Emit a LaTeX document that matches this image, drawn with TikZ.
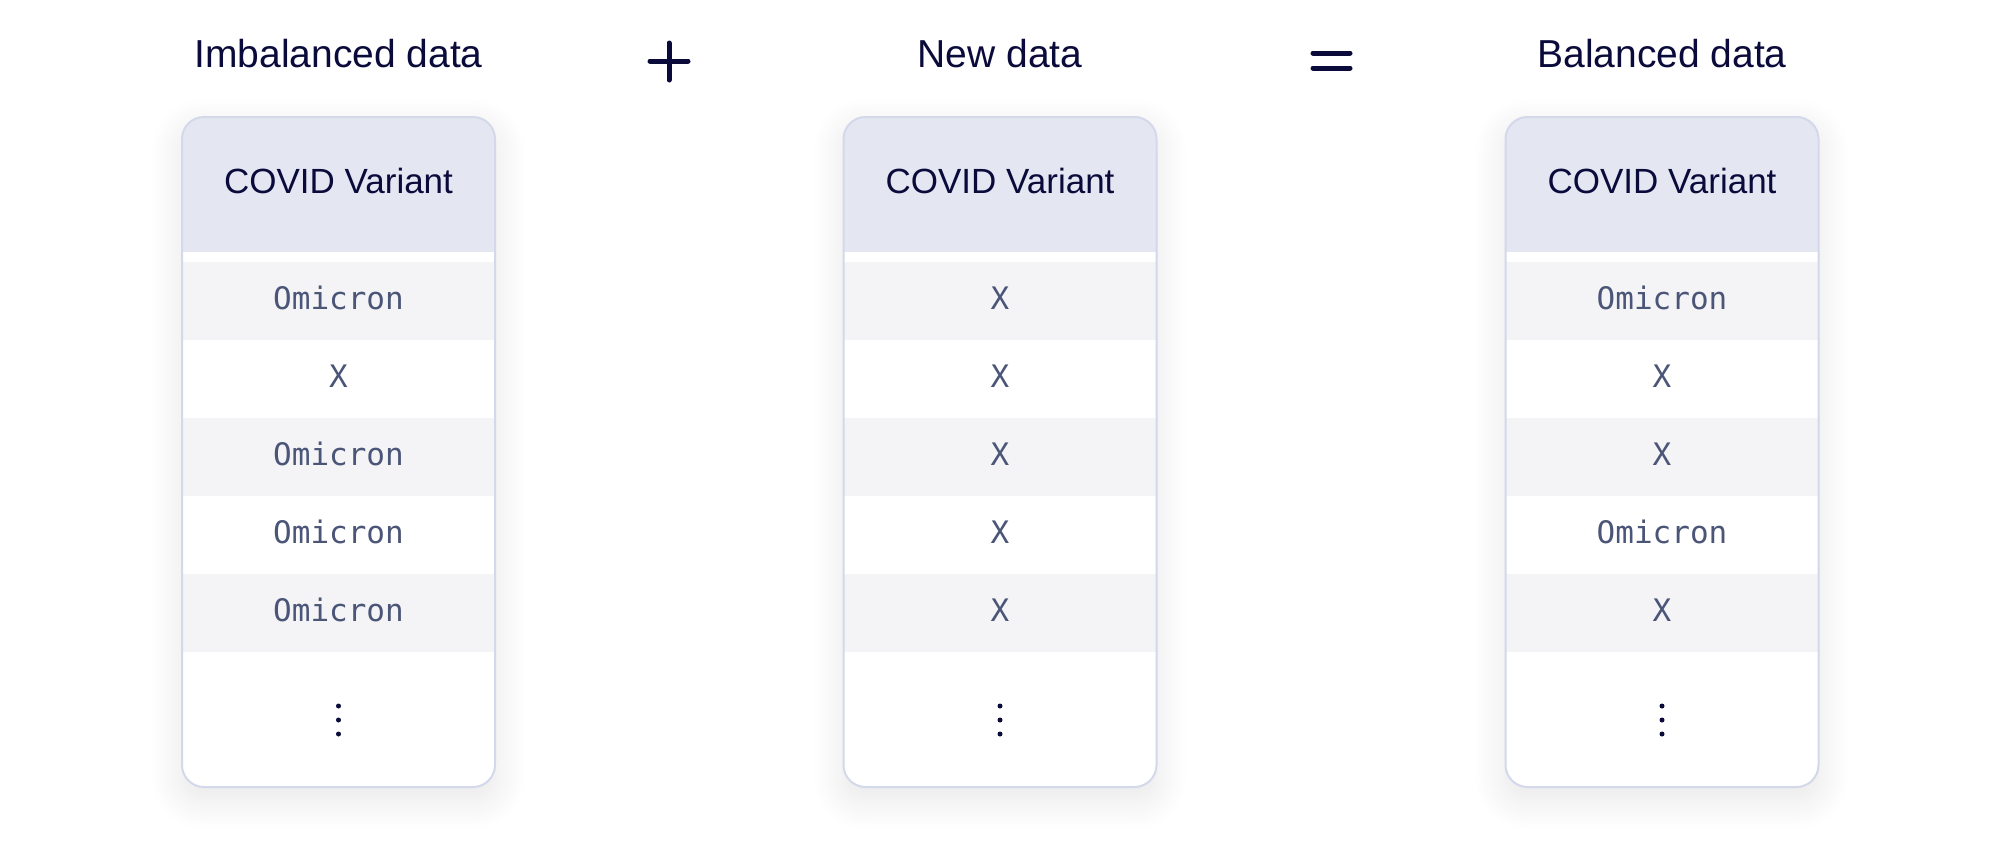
\documentclass[tikz,border=0pt]{standalone}
\usepackage{fontspec}
\setmainfont{Liberation Sans}
\newfontfamily\cellmono{DejaVu Sans Mono}
\usetikzlibrary{shadows.blur}
\definecolor{navy}{HTML}{0B0B3B}
\definecolor{cardborder}{HTML}{D3D8EA}
\definecolor{headfill}{HTML}{E4E7F2}
\definecolor{rowfill}{HTML}{F4F4F7}
\definecolor{celltext}{HTML}{4B5577}
\tikzset{
  titletext/.style={font=\fontsize{39}{42}\selectfont, text=navy, anchor=base, inner sep=0pt},
  headtext/.style={font=\fontsize{35}{40}\selectfont, text=navy, inner sep=0pt},
  celltxt/.style={font=\cellmono\fontsize{31}{34}\selectfont, text=celltext, inner sep=0pt},
  cardframe/.style={draw=cardborder, line width=2pt, rounded corners=22pt},
  cardshadow/.style={fill=white, rounded corners=22pt, blur shadow={shadow xshift=0pt, shadow yshift=-12pt, shadow blur radius=30pt, shadow blur steps=12, shadow opacity=10}},
  dotmark/.style={circle, fill=navy, inner sep=0pt, minimum size=5pt},
  opline/.style={draw=navy, line width=5pt, line cap=round}
}
\begin{document}
\begin{tikzpicture}[x=1pt,y=-1pt]
\useasboundingbox (0,0) rectangle (2000,852);
\foreach \cx/\k/\ttl/\ra/\rb/\rc/\rd/\re in {
  338.5/1/Imbalanced data/Omicron/X/Omicron/Omicron/Omicron,
  1000/2/New data/X/X/X/X/X,
  1662/3/Balanced data/Omicron/X/X/Omicron/X}{
  \node[titletext] (t\k) at (\cx,67) {\ttl};
  \path[cardshadow] (\cx-156.5,117) rectangle (\cx+156.5,787);
  \begin{scope}
    \clip[rounded corners=22pt] (\cx-156.5,117) rectangle (\cx+156.5,787);
    \fill[headfill] (\cx-157,117) rectangle (\cx+157,252);
    \fill[rowfill] (\cx-157,262) rectangle (\cx+157,340);
    \fill[rowfill] (\cx-157,418) rectangle (\cx+157,496);
    \fill[rowfill] (\cx-157,574) rectangle (\cx+157,652);
  \end{scope}
  \draw[cardframe] (\cx-156.5,117) rectangle (\cx+156.5,787);
  \node[headtext] (h\k) at (\cx,181) {COVID Variant};
  \node[celltxt] (c\k a) at (\cx,298) {\ra};
  \node[celltxt] (c\k b) at (\cx,376) {\rb};
  \node[celltxt] (c\k c) at (\cx,454) {\rc};
  \node[celltxt] (c\k d) at (\cx,532) {\rd};
  \node[celltxt] (c\k e) at (\cx,610) {\re};
  \node[dotmark] (d\k a) at (\cx,706) {};
  \node[dotmark] (d\k b) at (\cx,720) {};
  \node[dotmark] (d\k c) at (\cx,734) {};
}
% plus sign
\coordinate (pl) at (650,61);
\coordinate (pr) at (688,61);
\coordinate (pt) at (669,43);
\coordinate (pb) at (669,80);
\draw[opline] (pl) -- (pr);
\draw[opline] (pt) -- (pb);
% equals sign
\coordinate (e1l) at (1313,53);
\coordinate (e1r) at (1350,53);
\coordinate (e2l) at (1313,68);
\coordinate (e2r) at (1350,68);
\draw[opline] (e1l) -- (e1r);
\draw[opline] (e2l) -- (e2r);
\end{tikzpicture}
\end{document}
